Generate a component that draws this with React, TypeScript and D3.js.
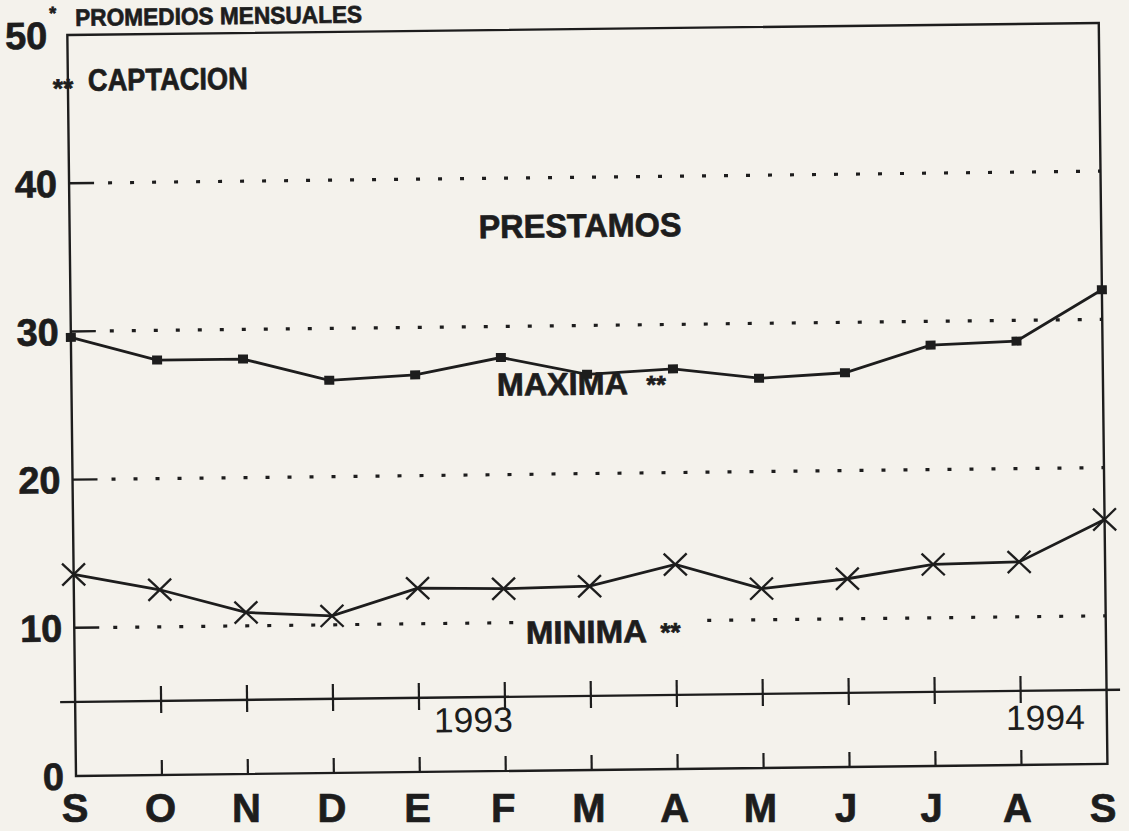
import React from 'react';
import * as d3 from 'd3';

const months = ['S', 'O', 'N', 'D', 'E', 'F', 'M', 'A', 'M', 'J', 'J', 'A', 'S'];
const maxima = [29.6, 28.0, 28.0, 26.5, 26.8, 27.9, 26.7, 27.0, 26.3, 26.6, 28.4, 28.6, 32.0];
const minima = [13.6, 12.5, 10.9, 10.6, 12.4, 12.3, 12.4, 13.8, 12.1, 12.7, 13.6, 13.7, 16.5];
const yTickValues = [0, 10, 20, 30, 40, 50];
const gridValues = [10, 20, 30, 40];
const breakLineValue = 5;
const years = ['1993', '1994'];

const W = 1129;
const H = 831;
const INK = '#1d1d1d';
const PAPER = '#f4f2ec';
const FONT = '"Liberation Sans", Arial, Helvetica, sans-serif';

const boldText = { fontWeight: 'bold' as const, fill: INK, stroke: INK, strokeWidth: 0.7 };

export default function App() {
  const x = d3.scaleLinear().domain([0, months.length - 1]).range([76, 1107.5]);
  const y = d3.scaleLinear().domain([0, 50]).range([776, 35]);
  const labelX = d3.scaleLinear().domain([0, months.length - 1]).range([75, 1103]);

  const line = d3
    .line<number>()
    .x((_, i) => x(i))
    .y((d) => y(d));

  const inner = months.map((_, i) => i).filter((i) => i > 0 && i < months.length - 1);

  return (
    <svg
      width={W}
      height={H}
      style={{ position: 'absolute', left: 0, top: 0, background: PAPER }}
      fontFamily={FONT}
    >
      <rect x={0} y={0} width={W} height={H} fill={PAPER} />
      <g transform="rotate(-0.67, 76, 776)">
        {/* frame */}
        <rect
          x={x(0)}
          y={y(50)}
          width={x(months.length - 1) - x(0)}
          height={y(0) - y(50)}
          fill="none"
          stroke={INK}
          strokeWidth={2.4}
        />
        {/* grid: short solid tick + dotted line */}
        {gridValues.map((v) => (
          <g key={v}>
            <line x1={x(0)} x2={x(0) + 25} y1={y(v)} y2={y(v)} stroke={INK} strokeWidth={2.4} />
            <line
              x1={115}
              x2={x(months.length - 1)}
              y1={y(v)}
              y2={y(v)}
              stroke={INK}
              strokeWidth={3.2}
              strokeDasharray="4 18"
            />
          </g>
        ))}
        {/* y labels */}
        {yTickValues.map((v) => (
          <text
            key={v}
            x={v === 50 ? 56 : 64}
            y={y(v) + 13.6}
            textAnchor="end"
            fontSize={38}
            {...boldText}
          >
            {v}
          </text>
        ))}
        <text x={58} y={19} fontSize={18} {...boldText}>*</text>
        <text x={84} y={26} fontSize={24} {...boldText} textLength={287} lengthAdjust="spacingAndGlyphs">
          PROMEDIOS MENSUALES
        </text>
        <text x={61} y={97} fontSize={26} {...boldText}>**</text>
        <text x={96} y={91} fontSize={31} {...boldText} textLength={160} lengthAdjust="spacingAndGlyphs">
          CAPTACION
        </text>
        <text x={485} y={243} fontSize={33} {...boldText} textLength={203} lengthAdjust="spacingAndGlyphs">
          PRESTAMOS
        </text>

        {/* MINIMA label with mask over dotted line */}
        <rect x={520} y={622} width={180} height={32} fill={PAPER} />
        <text x={527.6} y={649} fontSize={32} {...boldText} textLength={121} lengthAdjust="spacingAndGlyphs">
          MINIMA
        </text>
        <text x={662} y={648} fontSize={26} {...boldText}>**</text>

        {/* break line with ticks */}
        <line x1={61} x2={1121} y1={y(breakLineValue)} y2={y(breakLineValue)} stroke={INK} strokeWidth={2.4} />
        {inner.map((i) => (
          <line key={'m' + i} x1={x(i)} x2={x(i)} y1={687} y2={714} stroke={INK} strokeWidth={2.2} />
        ))}
        {inner.map((i) => (
          <line key={'b' + i} x1={x(i)} x2={x(i)} y1={761} y2={y(0)} stroke={INK} strokeWidth={2.2} />
        ))}
        <text x={474} y={736.7} textAnchor="middle" fontSize={35} fill={INK} textLength={79} lengthAdjust="spacingAndGlyphs">
          {years[0]}
        </text>
        <text x={1046} y={741} textAnchor="middle" fontSize={35} fill={INK} textLength={79} lengthAdjust="spacingAndGlyphs">
          {years[1]}
        </text>

        {/* maxima */}
        <path d={line(maxima) || ''} fill="none" stroke={INK} strokeWidth={2.8} />
        {maxima.map((v, i) => (
          <rect key={'sq' + i} x={x(i) - 5} y={y(v) - 4.5} width={10} height={9} fill={INK} />
        ))}
        <text x={501.5} y={400.7} fontSize={32} {...boldText} textLength={131} lengthAdjust="spacingAndGlyphs">
          MAXIMA
        </text>
        <text x={651} y={400} fontSize={25} {...boldText}>**</text>

        {/* minima */}
        <path d={line(minima) || ''} fill="none" stroke={INK} strokeWidth={2.8} />
        {minima.map((v, i) => (
          <g key={'x' + i} stroke={INK} strokeWidth={2.3}>
            <line x1={x(i) - 11.5} x2={x(i) + 11.5} y1={y(v) - 11} y2={y(v) + 11} />
            <line x1={x(i) - 11.5} x2={x(i) + 11.5} y1={y(v) + 11} y2={y(v) - 11} />
          </g>
        ))}
      </g>

      {/* month labels */}
      {months.map((m, i) => (
        <text
          key={'lbl' + i}
          x={labelX(i)}
          y={822}
          textAnchor="middle"
          fontSize={40}
          {...boldText}
        >
          {m}
        </text>
      ))}
    </svg>
  );
}
